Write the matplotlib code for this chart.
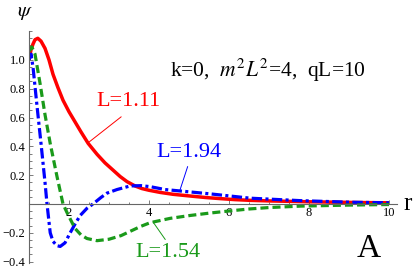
import numpy as np
import matplotlib
matplotlib.use('Agg')
import matplotlib.pyplot as plt
from matplotlib.ticker import MultipleLocator, FixedLocator

plt.rcParams['font.family'] = ['Liberation Serif', 'DejaVu Serif']
plt.rcParams['mathtext.fontset'] = 'stix'
plt.rcParams['lines.scale_dashes'] = False

# curves: r, psi
r_red = [1.0, 1.05, 1.1, 1.15, 1.22, 1.3, 1.4, 1.5, 1.6, 1.72, 1.85, 2.0,
         2.15, 2.3, 2.48, 2.7, 2.9, 3.1, 3.28, 3.45, 3.65, 3.82, 4.0, 4.28,
         4.6, 5.03, 5.4, 5.78, 6.15, 6.53, 7.0, 7.5, 8.0, 8.5, 9.2, 10.0]
psi_red = [1.0, 1.07, 1.11, 1.14, 1.15, 1.13, 1.08, 1.0, 0.90, 0.81, 0.72,
           0.64, 0.57, 0.5, 0.42, 0.345, 0.285, 0.235, 0.19, 0.155, 0.125,
           0.107, 0.095, 0.08, 0.067, 0.055, 0.045, 0.037, 0.03, 0.025,
           0.021, 0.018, 0.015, 0.013, 0.01, 0.008]

r_blue = [1.0, 1.05, 1.1, 1.2, 1.3, 1.4, 1.45, 1.53, 1.6, 1.7, 1.78, 1.9,
          2.03, 2.15, 2.28, 2.45, 2.6, 2.8, 2.95, 3.2, 3.53, 3.8, 4.03, 4.4,
          4.78, 5.53, 6.53, 7.78, 9.03, 10.0]
psi_blue = [1.0, 1.04, 0.95, 0.68, 0.42, 0.15, 0.0, -0.2, -0.26, -0.29,
            -0.295, -0.27, -0.2, -0.14, -0.08, -0.03, 0.0, 0.045, 0.075,
            0.10, 0.125, 0.127, 0.12, 0.10, 0.09, 0.07, 0.04, 0.023, 0.012,
            0.008]

r_green = [1.0, 1.07, 1.15, 1.28, 1.4, 1.53, 1.7, 1.85, 1.95, 2.15, 2.3,
           2.45, 2.7, 3.0, 3.3, 3.53, 3.8, 4.03, 4.53, 5.03, 5.53, 6.03, 6.5,
           7.0, 7.8, 9.0, 10.0]
psi_green = [1.06, 1.09, 1.04, 0.83, 0.62, 0.42, 0.19, 0.0, -0.06, -0.17,
             -0.215, -0.24, -0.255, -0.245, -0.22, -0.19, -0.155, -0.13,
             -0.10, -0.08, -0.063, -0.048, -0.035, -0.025, -0.015, -0.008,
             -0.004]

x_ticks = [2, 4, 6, 8, 10]
y_ticks = [-0.4, -0.2, 0.2, 0.4, 0.6, 0.8, 1.0]
y_tick_labels = ['\u22120.4', '\u22120.2', '0.2', '0.4', '0.6', '0.8', '1.0']

red = '#ff0000'
blue = '#0000ff'
green = '#1a9a1a'
axis_gray = '#666666'

fig = plt.figure(figsize=(4.15, 2.7), dpi=100)
ax = fig.add_axes([0.0699, 0.0259, 0.8867, 0.859])

ax.plot(r_red, psi_red, color=red, lw=2.5, solid_capstyle='butt',
        solid_joinstyle='round')
ax.plot(r_blue, psi_blue, color=blue, lw=2.3, dashes=(7.5, 2.4, 2.2, 2.4))
ax.plot(r_green, psi_green, color=green, lw=2.3, dashes=(5.8, 2.9))

ax.set_xlim(1, 10.2)
ax.set_ylim(-0.41, 1.2)

for side in ['top', 'right']:
    ax.spines[side].set_visible(False)
ax.spines['bottom'].set_position(('data', 0))
for side in ['left', 'bottom']:
    ax.spines[side].set_color(axis_gray)
    ax.spines[side].set_linewidth(0.8)

ax.xaxis.set_major_locator(FixedLocator(x_ticks))
ax.xaxis.set_minor_locator(MultipleLocator(0.5))
ax.set_yticks(y_ticks)
ax.set_yticklabels(y_tick_labels)
ax.yaxis.set_minor_locator(MultipleLocator(0.05))
ax.tick_params(which='both', direction='in', color=axis_gray, width=0.6,
               labelsize=9)
ax.tick_params(which='major', length=3)
ax.tick_params(which='minor', length=1.8)
ax.tick_params(axis='x', pad=2)
ax.tick_params(axis='y', pad=2.5)
ax.patch.set_visible(False)

lead = dict(arrowstyle='-', lw=0.7, shrinkB=0)
ax.annotate('L=1.11', xy=(2.475, 0.424), xytext=(3.475, 0.708), color=red,
            fontsize=16, ha='center', va='center',
            arrowprops=dict(lead, color=red, relpos=(0.5, 0), shrinkA=3))
ax.annotate('L=1.94', xy=(4.775, 0.097), xytext=(5.0, 0.354), color=blue,
            fontsize=16, ha='center', va='center',
            arrowprops=dict(lead, color=blue, relpos=(0.5, 0), shrinkA=1))
ax.annotate('L=1.54', xy=(4.1, -0.125), xytext=(4.475, -0.34), color=green,
            fontsize=16, ha='center', va='center',
            arrowprops=dict(lead, color=green, relpos=(0.5, 1), shrinkA=1))

ax.text(6.975, 0.93, 'k=0,  $m^2L^2$=4,  qL=10', fontsize=15.5,
        ha='center', va='center')
ax.text(9.5, -0.31, 'A', fontsize=24, ha='center', va='center')
ax.text(10.475, 0.0, 'r', fontsize=18, ha='center', va='center')
ax.text(0.9, 1.33, r'$\psi$', fontsize=15, ha='center', va='center')

fig.savefig('out.png', dpi=100)
